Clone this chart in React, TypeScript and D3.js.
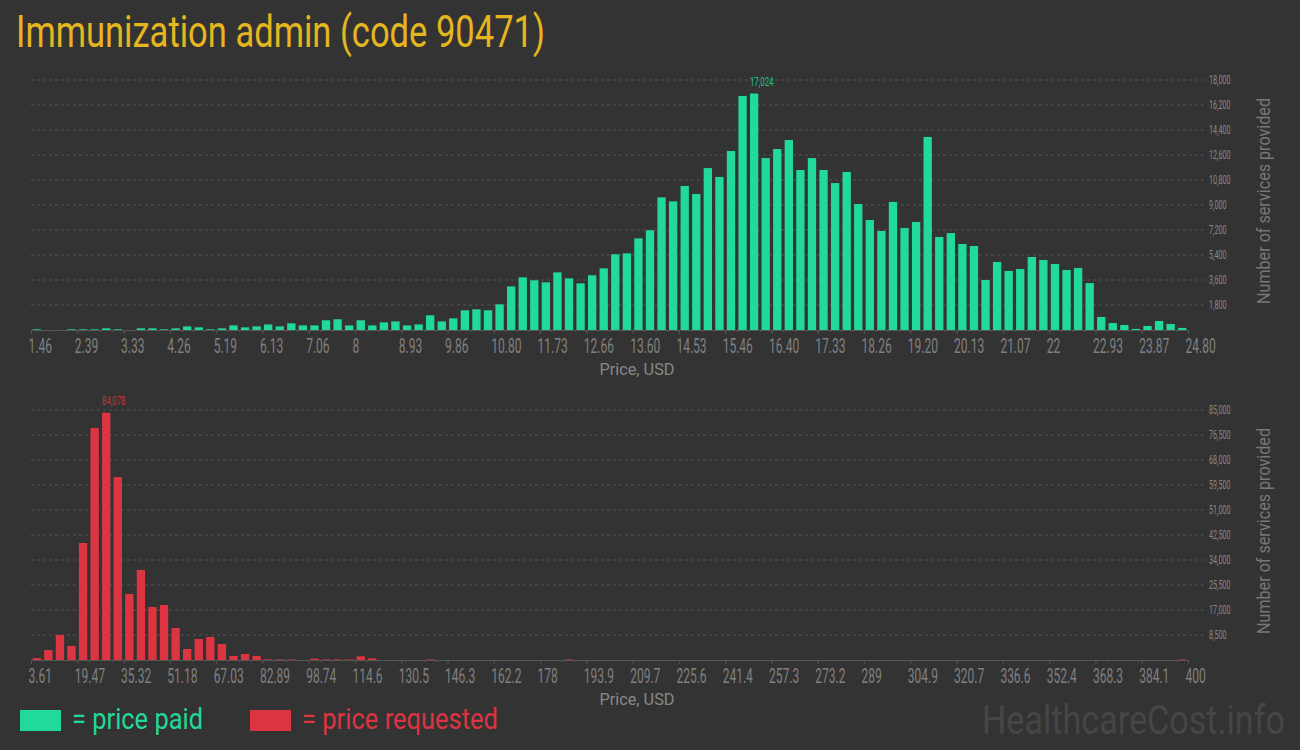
import React, { useEffect, useRef } from "react";
import * as d3 from "d3";

// histogram bins (100 per chart)
const paidCounts = [
  50, 0, 0, 50, 50, 50, 120, 50, 0, 120,
  120, 50, 120, 260, 190, 50, 120, 330, 190, 260,
  400, 260, 480, 330, 330, 700, 770, 330, 700, 330,
  550, 620, 330, 400, 1060, 620, 840, 1420, 1490, 1420,
  1850, 3140, 3790, 3580, 3430, 4150, 3720, 3360, 3940, 4440,
  5450, 5520, 6600, 7180, 9550, 9260, 10370, 9790, 11660, 11020,
  12890, 16850, 17024, 12380, 13030, 13680, 11520, 12380, 11520, 10580,
  11380, 9070, 7920, 7130, 9220, 7340, 7780, 13900, 6700, 6980,
  6190, 6050, 3600, 4900, 4250, 4390, 5260, 5040, 4750, 4320,
  4460, 3380, 940, 500, 360, 80, 290, 650, 430, 150,
];

const requestedCounts = [
  680, 3400, 8500, 4760, 39780, 78880, 84078, 62220, 22440, 30600,
  18020, 18700, 10880, 3740, 7140, 7820, 5440, 1360, 2040, 1360,
  200, 200, 200, 0, 450, 200, 200, 200, 1250, 570,
  0, 0, 0, 0, 200, 0, 0, 0, 0, 0,
  0, 0, 0, 0, 0, 0, 200, 0, 0, 0,
  0, 0, 0, 0, 0, 0, 0, 0, 0, 0,
  0, 0, 0, 0, 0, 0, 0, 0, 0, 0,
  0, 0, 0, 0, 0, 0, 0, 0, 0, 0,
  0, 0, 0, 0, 0, 0, 0, 0, 0, 0,
  0, 0, 0, 0, 0, 0, 0, 0, 0, 200,
];

const paidTicks = [
  "1.46", "2.39", "3.33", "4.26", "5.19", "6.13", "7.06", "8", "8.93", "9.86",
  "10.80", "11.73", "12.66", "13.60", "14.53", "15.46", "16.40", "17.33", "18.26", "19.20",
  "20.13", "21.07", "22", "22.93", "23.87", "24.80",
];

const requestedTicks = [
  "3.61", "19.47", "35.32", "51.18", "67.03", "82.89", "98.74", "114.6", "130.5", "146.3",
  "162.2", "178", "193.9", "209.7", "225.6", "241.4", "257.3", "273.2", "289", "304.9",
  "320.7", "336.6", "352.4", "368.3", "384.1", "400",
];

const paidYTicks = [1800, 3600, 5400, 7200, 9000, 10800, 12600, 14400, 16200, 18000];
const requestedYTicks = [8500, 17000, 25500, 34000, 42500, 51000, 59500, 68000, 76500, 85000];

const GREEN = "#21d99b";
const RED = "#dd3442";
const FONT = "Roboto, 'Open Sans', sans-serif";
const NARROW = 0.6;

const App: React.FC = () => {
  const svgRef = useRef<SVGSVGElement>(null);
  const width = 1300;
  const height = 750;
  const left = 31;
  const right = 1188;

  const drawPanel = (
    svg: d3.Selection<SVGSVGElement, unknown, null, undefined>,
    data: number[],
    ticks: string[],
    yTicks: number[],
    color: string,
    base: number,
  ) => {
    const yMax = yTicks[yTicks.length - 1];
    const y = d3.scaleLinear().domain([0, yMax]).range([base, base - 250]);
    const x = d3.scaleBand<number>()
      .domain(d3.range(data.length))
      .range([left, right])
      .paddingInner(0.28)
      .paddingOuter(0.14);
    const edge = d3.scaleLinear().domain([0, data.length]).range([left, right]);
    const g = svg.append("g");

    // grid
    g.selectAll(".grid")
      .data(yTicks)
      .join("line")
      .attr("x1", left)
      .attr("x2", 1204)
      .attr("y1", (d) => y(d))
      .attr("y2", (d) => y(d))
      .attr("stroke", "#555")
      .attr("stroke-dasharray", "3,3");

    // right labels
    g.selectAll(".ylab")
      .data(yTicks)
      .join("text")
      .attr("transform", (d) => `translate(1209,${y(d) + 4}) scale(${NARROW},1)`)
      .attr("font-family", FONT)
      .attr("font-size", 12)
      .attr("fill", "#888")
      .text((d) => d3.format(",")(d));

    // bars
    g.selectAll(".bar")
      .data(data)
      .join("rect")
      .attr("x", (_, i) => x(i)!)
      .attr("width", x.bandwidth())
      .attr("y", (d) => y(d))
      .attr("height", (d) => base - y(d))
      .attr("fill", color);

    // max label
    const mi = d3.maxIndex(data);
    g.append("text")
      .attr("transform", `translate(${x(mi)},${y(data[mi]) - 8}) scale(${NARROW},1)`)
      .attr("font-family", FONT)
      .attr("font-size", 13)
      .attr("fill", color)
      .attr("opacity", 0.85)
      .text(d3.format(",")(data[mi]));

    // minor ticks
    g.append("g")
      .attr("transform", `translate(0,${base})`)
      .call(d3.axisBottom(edge).tickValues(d3.range(0, data.length + 1)).tickSize(2).tickFormat(() => ""))
      .call((a) => a.selectAll("path,line").attr("stroke", "#555"));

    // major ticks + labels
    const ax = g.append("g")
      .attr("transform", `translate(0,${base})`)
      .call(
        d3.axisBottom(edge)
          .tickValues(d3.range(0, data.length + 1, 4))
          .tickSize(4)
          .tickFormat((_, i) => ticks[i]),
      );
    ax.selectAll("path,line").attr("stroke", "#555");
    ax.selectAll("text")
      .attr("font-family", FONT)
      .attr("font-size", 20)
      .attr("fill", "#808080")
      .attr("text-anchor", "start")
      .attr("dy", null)
      .attr("y", 23)
      .attr("x", -3 / NARROW)
      .attr("transform", `scale(${NARROW},1)`);

    // axis titles
    g.append("text")
      .attr("x", 637)
      .attr("y", base + 45)
      .attr("text-anchor", "middle")
      .attr("font-family", FONT)
      .attr("font-size", 17)
      .attr("textLength", 75)
      .attr("lengthAdjust", "spacingAndGlyphs")
      .attr("fill", "#888")
      .text("Price, USD");

    g.append("text")
      .attr("transform", `translate(1270,${base - 129}) rotate(-90)`)
      .attr("text-anchor", "middle")
      .attr("font-family", FONT)
      .attr("font-size", 18)
      .attr("textLength", 206)
      .attr("lengthAdjust", "spacingAndGlyphs")
      .attr("fill", "#777")
      .text("Number of services provided");
  };

  useEffect(() => {
    const svg = d3.select(svgRef.current!);
    svg.selectAll("*").remove();

    svg.append("rect").attr("width", width).attr("height", height).attr("fill", "#333");

    svg.append("text")
      .attr("x", 16)
      .attr("y", 47)
      .attr("font-family", FONT)
      .attr("font-size", 45)
      .attr("textLength", 529)
      .attr("lengthAdjust", "spacingAndGlyphs")
      .attr("fill", "#e6b61f")
      .text("Immunization admin (code 90471)");

    drawPanel(svg, paidCounts, paidTicks, paidYTicks, GREEN, 330);
    drawPanel(svg, requestedCounts, requestedTicks, requestedYTicks, RED, 660);

    // legend
    const legend = [
      { label: "= price paid", color: GREEN, x: 20, len: 131 },
      { label: "= price requested", color: RED, x: 250, len: 196 },
    ];
    legend.forEach((l) => {
      svg.append("rect").attr("x", l.x).attr("y", 710).attr("width", 41).attr("height", 21).attr("fill", l.color);
      svg.append("text")
        .attr("x", l.x + 52)
        .attr("y", 729)
        .attr("font-family", FONT)
        .attr("font-size", 29)
        .attr("textLength", l.len)
        .attr("lengthAdjust", "spacingAndGlyphs")
        .attr("fill", l.color)
        .text(l.label);
    });

    svg.append("text")
      .attr("x", 982)
      .attr("y", 734)
      .attr("font-family", FONT)
      .attr("font-size", 40)
      .attr("textLength", 303)
      .attr("lengthAdjust", "spacingAndGlyphs")
      .attr("fill", "#464646")
      .text("HealthcareCost.info");
  }, []);

  return (
    <div style={{ position: "fixed", left: 0, top: 0 }}>
      <svg ref={svgRef} width={width} height={height} style={{ display: "block" }}></svg>
    </div>
  );
};

export default App;
